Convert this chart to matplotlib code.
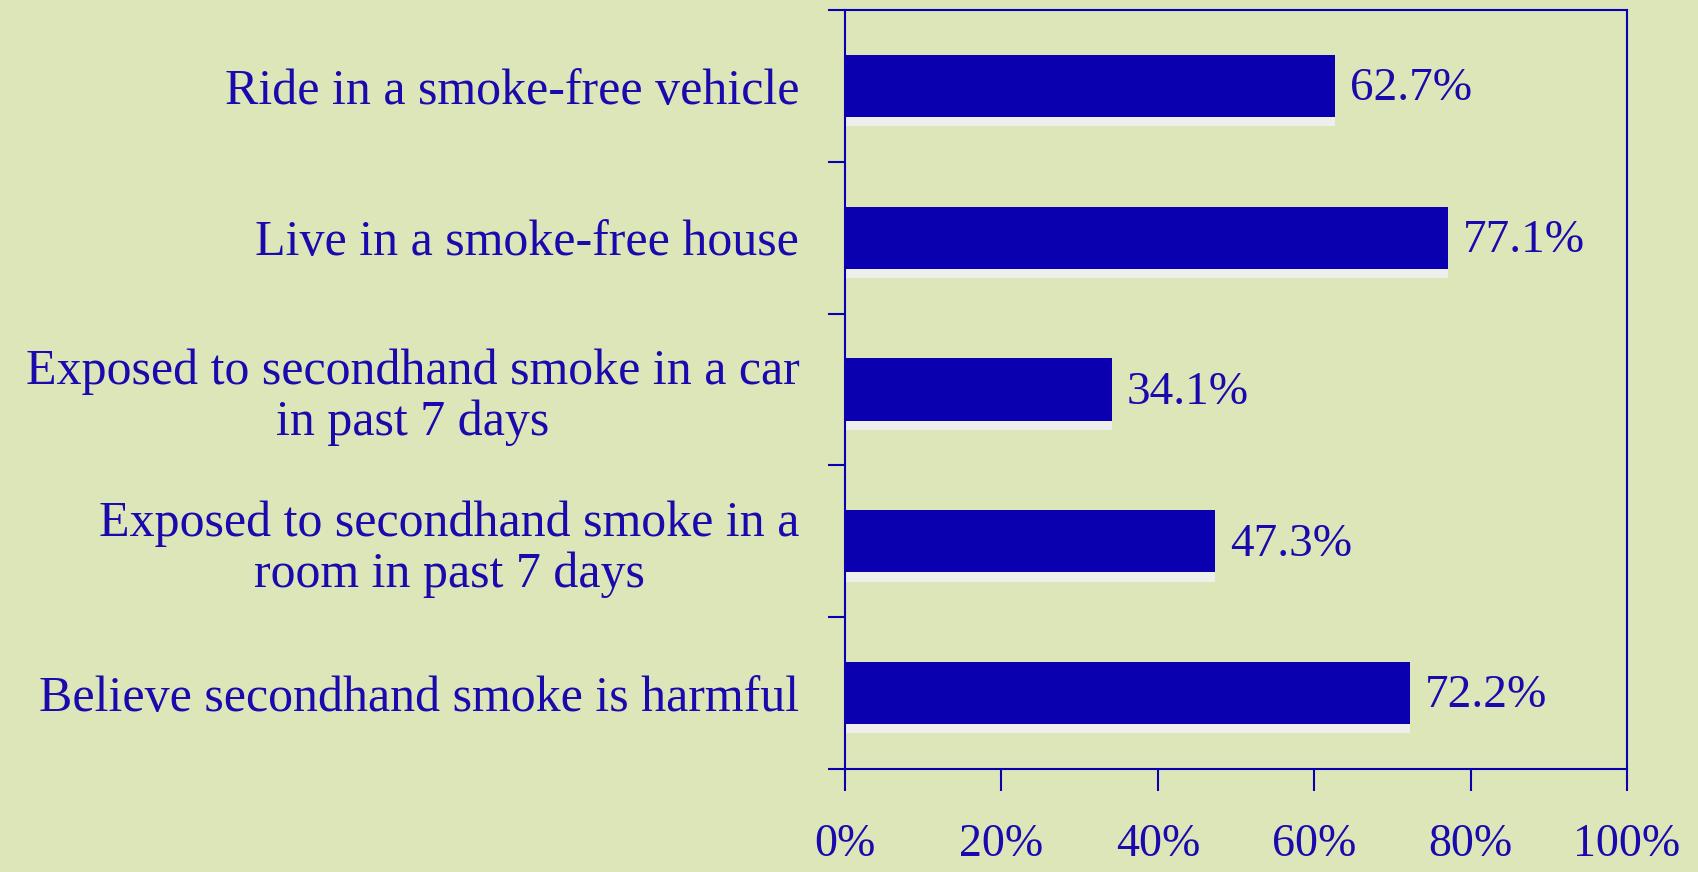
import numpy as np
import matplotlib.pyplot as plt

categories = ['Ride in a smoke-free vehicle',
              'Live in a smoke-free house',
              'Exposed to secondhand smoke in a car\nin past 7 days',
              'Exposed to secondhand smoke in a\nroom in past 7 days',
              'Believe secondhand smoke is harmful']
values = [62.7, 77.1, 34.1, 47.3, 72.2]
xticks = [0, 20, 40, 60, 80, 100]
xticklabels = ['0%', '20%', '40%', '60%', '80%', '100%']

bg = '#dce6b9'
bar_col = '#0b00b0'
txt_col = '#1a0aae'
plt.rcParams['font.family'] = ['Liberation Serif', 'DejaVu Serif']

fig = plt.figure(figsize=(16.98, 8.72), dpi=100, facecolor=bg)
ax = fig.add_axes([0.4977, 0.1181, 0.9582 - 0.4977, 0.9885 - 0.1181])
ax.set_facecolor(bg)

y = np.arange(len(categories))[::-1]
h = 0.41
# soft shadow under each bar
ax.barh(y - h / 2 - 0.03, values, height=0.06, color='#eeeeea', zorder=1)
ax.barh(y, values, height=h, color=bar_col, zorder=2)

for yi, v in zip(y, values):
    ax.text(v + 1.9, yi - 0.02, f'{v:.1f}%', va='center', ha='left',
            fontsize=34, color=txt_col)

ax.set_xlim(0, 100)
ax.set_ylim(-0.5, 4.5)
ax.set_xticks(xticks)
ax.set_xticklabels(xticklabels)
ax.set_yticks(np.arange(-0.5, 5, 1))
ax.set_yticklabels([])
ax.set_yticks(y, minor=True)
ax.set_yticklabels(categories, minor=True, ha='right', multialignment='center',
                   linespacing=1.12)
ax.tick_params(axis='y', which='major', length=12, width=1.5, color=bar_col, direction='out')
ax.tick_params(axis='y', which='minor', length=0, pad=33, labelsize=36, labelcolor=txt_col)
ax.tick_params(axis='x', length=16, width=1.5, color=bar_col, direction='out',
               pad=23, labelsize=33, labelcolor=txt_col)
for s in ax.spines.values():
    s.set_color(bar_col)
    s.set_linewidth(1.5)

fig.savefig('out.png', dpi=100, facecolor=bg)
